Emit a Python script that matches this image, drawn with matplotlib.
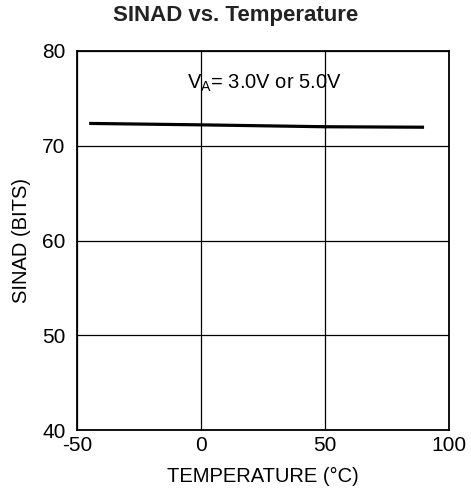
import matplotlib
matplotlib.use("Agg")
import matplotlib.pyplot as plt

plt.rcParams["font.family"] = ["Liberation Sans", "DejaVu Sans"]

temperature = [-45, 0, 25, 50, 90]
sinad = [72.35, 72.2, 72.1, 72.0, 71.95]
x_ticks = [-50, 0, 50, 100]
y_ticks = [40, 50, 60, 70, 80]

fig = plt.figure(figsize=(4.71, 4.99), dpi=100)
ax = fig.add_axes([0.163, 0.138, 0.79, 0.76])

ax.plot(temperature, sinad, color="black", linewidth=2.3, solid_capstyle="butt")

ax.set_xlim(-50, 100)
ax.set_ylim(40, 80)
ax.set_xticks(x_ticks)
ax.set_yticks(y_ticks)
ax.set_xticklabels(["-50", "0", "50", "100"])
ax.tick_params(length=0, labelsize=15, colors="black")
ax.tick_params(axis="x", pad=4)
ax.tick_params(axis="y", pad=8)
ax.grid(True, color="black", linewidth=0.9)
for spine in ax.spines.values():
    spine.set_linewidth(1.3)

ax.text(-5.5, 76.6, r"V$_\mathregular{A}$= 3.0V or 5.0V", fontsize=14.5, va="center")

ax.set_xlabel("TEMPERATURE (°C)", fontsize=14.5, labelpad=9)
ax.set_ylabel("SINAD (BITS)", fontsize=14.5, labelpad=8)
fig.suptitle("SINAD vs. Temperature", fontsize=16, fontweight="bold", color="#222222", y=0.99)

fig.savefig("out.png", dpi=100)
